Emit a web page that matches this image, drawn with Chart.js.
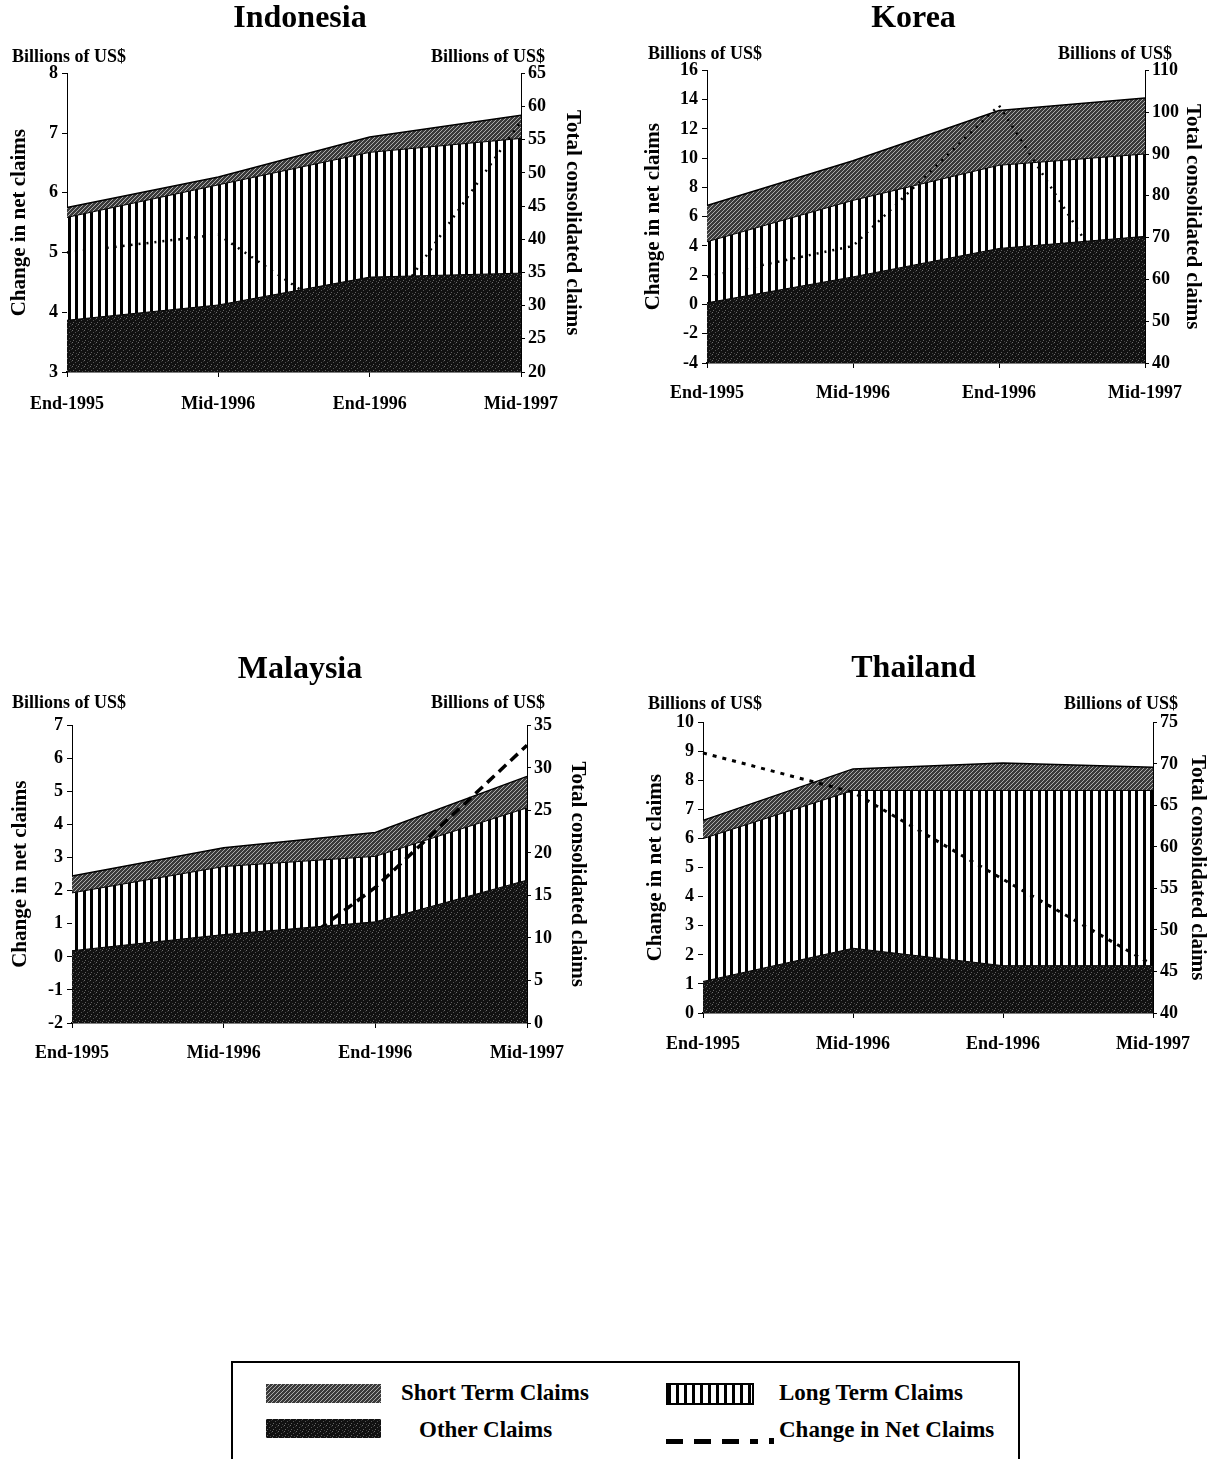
<!DOCTYPE html>
<html>
<head>
<meta charset="utf-8">
<script src="https://cdn.jsdelivr.net/npm/chart.js@4.4.0/dist/chart.umd.min.js"></script>
<style>
  body { margin: 0; width: 1217px; height: 1459px; background: #fff; position: relative; overflow: hidden; font-family: 'Liberation Serif', 'Times New Roman', serif; }
  canvas.panel { position: absolute; }
  #legend { position: absolute; left: 231px; top: 1361px; width: 789px; height: 130px; border: 2px solid #000; box-sizing: border-box; }
  .sw { position: absolute; }
  .lt { position: absolute; font-weight: bold; font-size: 23px; line-height: 26px; color: #000; white-space: nowrap; }
</style>
</head>
<body>
<canvas id="indonesia" class="panel" width="600" height="420" style="left:0;top:0"></canvas>
<canvas id="korea" class="panel" width="607" height="420" style="left:610px;top:0"></canvas>
<canvas id="malaysia" class="panel" width="600" height="420" style="left:0;top:650px"></canvas>
<canvas id="thailand" class="panel" width="607" height="420" style="left:610px;top:650px"></canvas>

<div id="legend">
  <div class="sw" id="swShort" style="left:33px;top:21px;width:115px;height:19px"></div>
  <div class="lt" style="left:168px;top:17px">Short Term Claims</div>
  <div class="sw" id="swOther" style="left:33px;top:56px;width:115px;height:19px"></div>
  <div class="lt" style="left:186px;top:54px">Other Claims</div>
  <div class="sw" id="swLong" style="left:433px;top:20px;width:84px;height:18px;border:2px solid #000"></div>
  <div class="lt" style="left:546px;top:17px">Long Term Claims</div>
  <div class="sw" style="left:433px;top:76px;width:92px;height:5px;background:repeating-linear-gradient(90deg,#000 0 17px,transparent 17px 28px)"></div>
  <div class="sw" style="left:536px;top:75px;width:5px;height:6px;background:#000"></div>
  <div class="lt" style="left:546px;top:54px">Change in Net Claims</div>
</div>

<script>
const periods = ['End-1995', 'Mid-1996', 'End-1996', 'Mid-1997'];

// Indonesia
const idnOther = [27.8, 30.1, 34.3, 34.9];
const idnLong = [15.5, 18.1, 18.8, 20.3];
const idnShort = [1.5, 1.2, 2.3, 3.5];
const idnChange = [5.0, 5.3, 3.6, 7.2];

// Korea
const korOther = [54.4, 60.6, 67.4, 70.3];
const korLong = [14.6, 18.3, 19.9, 19.7];
const korShort = [8.7, 9.5, 13.1, 13.4];
const korChange = [1.9, 4.0, 13.6, -2.1];

// Malaysia
const mysOther = [8.5, 10.4, 11.9, 16.8];
const mysLong = [6.8, 8.0, 7.7, 8.5];
const mysShort = [2.0, 2.2, 2.8, 3.7];
const mysChange = [-0.5, -1.3, 2.1, 6.4];

// Thailand
const thaOther = [43.8, 47.8, 45.7, 45.7];
const thaLong = [17.2, 19.0, 21.1, 21.1];
const thaShort = [2.2, 2.6, 3.3, 2.8];
const thaChange = [8.95, 7.6, 4.6, 1.65];

const serif = "'Liberation Serif', 'Times New Roman', serif";

function makeTile(w, h, base, dots) {
    const c = document.createElement('canvas');
    c.width = w;
    c.height = h;
    const g = c.getContext('2d');
    g.fillStyle = base;
    g.fillRect(0, 0, w, h);
    dots.forEach(function (d) {
        g.fillStyle = d[2];
        g.fillRect(d[0], d[1], d[3] || 1, d[4] || 1);
    });
    return c;
}

const otherTile = makeTile(6, 6, '#111', [[0, 0, '#6e6e6e'], [3, 2, '#555'], [1, 4, '#626262'], [4, 5, '#444'], [5, 1, '#333']]);
const shortTile = makeTile(4, 4, '#3a3a3a', [[0, 3, '#ababab'], [1, 2, '#ababab'], [2, 1, '#ababab'], [3, 0, '#ababab']]);
const stripeTile = makeTile(15, 1, '#fff', [[0, 0, '#000', 3, 1], [8, 0, '#000', 3, 1]]);

const tmpCtx = document.createElement('canvas').getContext('2d');
const otherFill = tmpCtx.createPattern(otherTile, 'repeat');
const shortFill = tmpCtx.createPattern(shortTile, 'repeat');
const stripeFill = tmpCtx.createPattern(stripeTile, 'repeat');

document.getElementById('swShort').style.background = 'url(' + shortTile.toDataURL() + ')';
document.getElementById('swOther').style.background = 'url(' + otherTile.toDataURL() + ')';
document.getElementById('swLong').style.background = 'repeating-linear-gradient(90deg,#000 0 3px,#fff 3px 8px)';

// "Billions of US$" above both value axes
const unitsLabel = {
    id: 'unitsLabel',
    afterDraw(chart, args, opts) {
        const ctx = chart.ctx;
        const area = chart.chartArea;
        ctx.save();
        ctx.font = 'bold 18px ' + serif;
        ctx.fillStyle = '#000';
        ctx.textBaseline = 'middle';
        ctx.textAlign = 'left';
        ctx.fillText('Billions of US$', area.left + opts.leftDx, area.top + opts.dy);
        ctx.textAlign = 'right';
        ctx.fillText('Billions of US$', area.right + opts.rightDx, area.top + opts.dy);
        ctx.restore();
    }
};

function drawPanel(id, name, other, longTerm, shortTerm, change, left, right, box) {
    const tickFont = { family: serif, size: 18, weight: 'bold' };
    new Chart(document.getElementById(id), {
        type: 'line',
        data: {
            labels: periods,
            // order: Other sits at the bottom of the stack and is painted over the dashed line
            datasets: [{
                label: 'Other Claims',
                data: other,
                yAxisID: 'y1',
                order: 0,
                backgroundColor: otherFill,
                borderColor: '#000',
                borderWidth: 1,
                fill: 'start',
                pointRadius: 0,
                tension: 0
            }, {
                label: 'Long Term Claims',
                data: longTerm,
                yAxisID: 'y1',
                order: 2,
                backgroundColor: stripeFill,
                borderColor: '#000',
                borderWidth: 1,
                fill: '-1',
                pointRadius: 0,
                tension: 0
            }, {
                label: 'Short Term Claims',
                data: shortTerm,
                yAxisID: 'y1',
                order: 3,
                backgroundColor: shortFill,
                borderColor: '#000',
                borderWidth: 1.5,
                fill: '-1',
                pointRadius: 0,
                tension: 0
            }, {
                label: 'Change in Net Claims',
                data: change,
                yAxisID: 'y',
                order: 1,
                borderColor: '#000',
                borderWidth: box.dashW,
                borderDash: box.dash,
                fill: false,
                pointRadius: 0,
                tension: 0
            }]
        },
        options: {
            responsive: false,
            maintainAspectRatio: false,
            animation: false,
            layout: { padding: 0 },
            scales: {
                x: {
                    grid: { drawOnChartArea: false, drawTicks: true, tickLength: 5, color: '#000' },
                    border: { color: '#000', width: 1.5 },
                    ticks: { color: '#000', font: tickFont, padding: box.xPad, maxRotation: 0, autoSkip: false },
                    afterFit: function (s) { s.height = box.xH; }
                },
                y: {
                    position: 'left',
                    min: left[0],
                    max: left[1],
                    ticks: { stepSize: left[2], color: '#000', font: tickFont, padding: 4 },
                    grid: { drawOnChartArea: false, drawTicks: true, tickLength: 5, color: '#000' },
                    border: { color: '#000', width: 1 },
                    title: {
                        display: true,
                        text: 'Change in net claims',
                        color: '#000',
                        font: { family: serif, size: 21, weight: 'bold' },
                        padding: { top: box.ltPad, bottom: 0 }
                    },
                    afterFit: function (s) { s.width = box.leftW; }
                },
                y1: {
                    position: 'right',
                    stacked: true,
                    min: right[0],
                    max: right[1],
                    ticks: { stepSize: right[2], color: '#000', font: tickFont, padding: 3 },
                    grid: { drawOnChartArea: false, drawTicks: true, tickLength: 4, color: '#000' },
                    border: { color: '#000', width: 1 },
                    title: {
                        display: true,
                        text: 'Total consolidated claims',
                        color: '#000',
                        font: { family: serif, size: 21, weight: 'bold' },
                        padding: { top: box.rtPad, bottom: 0 }
                    },
                    afterFit: function (s) { s.width = box.rightW; }
                }
            },
            plugins: {
                legend: { display: false },
                tooltip: { enabled: false },
                title: {
                    display: true,
                    text: name,
                    color: '#000',
                    font: { family: serif, size: 32, weight: 'bold' },
                    padding: { top: box.tTop, bottom: box.tBottom }
                },
                unitsLabel: { leftDx: box.uL, rightDx: box.uR, dy: box.uY }
            }
        },
        plugins: [unitsLabel]
    });
}

drawPanel('indonesia', 'Indonesia', idnOther, idnLong, idnShort, idnChange,
    [3, 8, 1], [20, 65, 5],
    { leftW: 67, rightW: 79, xH: 48, xPad: 17, tTop: 0, tBottom: 35, ltPad: 7, rtPad: 15,
      dash: [2, 6], dashW: 2.5, uL: -55, uR: 24, uY: -16 });

drawPanel('korea', 'Korea', korOther, korLong, korShort, korChange,
    [-4, 16, 2], [40, 110, 10],
    { leftW: 97, rightW: 72, xH: 57, xPad: 15, tTop: 0, tBottom: 32, ltPad: 31, rtPad: 12,
      dash: [2, 6], dashW: 2.5, uL: -59, uR: 27, uY: -16 });

drawPanel('malaysia', 'Malaysia', mysOther, mysLong, mysShort, mysChange,
    [-2, 7, 1], [0, 35, 5],
    { leftW: 72, rightW: 73, xH: 47, xPad: 15, tTop: 1, tBottom: 36, ltPad: 8, rtPad: 10,
      dash: [10, 6], dashW: 3.5, uL: -60, uR: 18, uY: -22 });

drawPanel('thailand', 'Thailand', thaOther, thaLong, thaShort, thaChange,
    [0, 10, 1], [40, 75, 5],
    { leftW: 93, rightW: 64, xH: 57, xPad: 16, tTop: 0, tBottom: 34, ltPad: 33, rtPad: 7,
      dash: [4, 6], dashW: 3, uL: -55, uR: 25, uY: -18 });
</script>
</body>
</html>
